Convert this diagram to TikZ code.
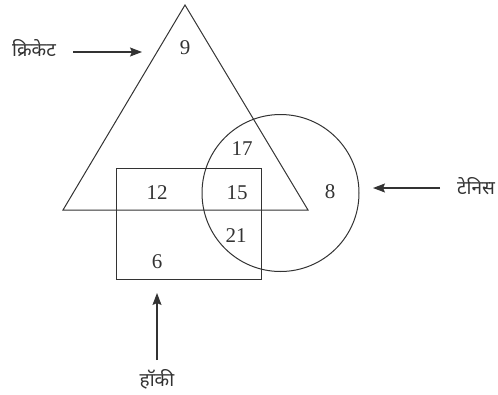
\documentclass[tikz,border=0pt]{standalone}
\usepackage{fontspec}
\newfontfamily\devfont[Script=Devanagari]{Noto Sans}
\newfontfamily\numfont{Liberation Serif}
\usetikzlibrary{arrows.meta}
\definecolor{ink}{HTML}{333333}
\tikzset{
  shape line/.style={draw=ink, line width=1pt},
  num/.style={text=ink, font=\numfont\fontsize{21}{21}\selectfont, inner sep=0pt},
  lbl/.style={text=ink, font=\devfont\fontsize{19}{19}\selectfont, inner sep=0pt},
  pointer/.style={draw=ink, line width=1.1pt, -{Stealth[length=12pt,width=9pt,inset=2pt]}}
}
\begin{document}
\begin{tikzpicture}[x=1pt,y=-1pt]
\useasboundingbox (0,0) rectangle (498,394);
% triangle (cricket)
\draw[shape line] (185,5) -- (308,210) -- (63,210) -- cycle;
% rectangle (hockey)
\draw[shape line] (116,168) rectangle (261,279);
% circle (tennis)
\draw[shape line] (280.5,193) circle (78.5);
% numbers
\node[num] (n9) at (185,48) {9};
\node[num] (n17) at (242,149) {17};
\node[num] (n12) at (157,193) {12};
\node[num] (n15) at (237,193) {15};
\node[num] (n8) at (330,192) {8};
\node[num] (n21) at (236,236) {21};
\node[num] (n6) at (157,262) {6};
% labels
\node[lbl] (cricket) at (34,48) {क्रिकेट};
\node[lbl] (tennis) at (476,186) {टेनिस};
\node[lbl] (hockey) at (157,379) {हॉकी};
% pointer endpoints
\coordinate (cA) at (73,52);
\coordinate (cB) at (142,52);
\coordinate (tA) at (440,188);
\coordinate (tB) at (373,188);
\coordinate (hA) at (157,360);
\coordinate (hB) at (157,293);
\draw[pointer] (cA) -- (cB);
\draw[pointer] (tA) -- (tB);
\draw[pointer] (hA) -- (hB);
\end{tikzpicture}
\end{document}
